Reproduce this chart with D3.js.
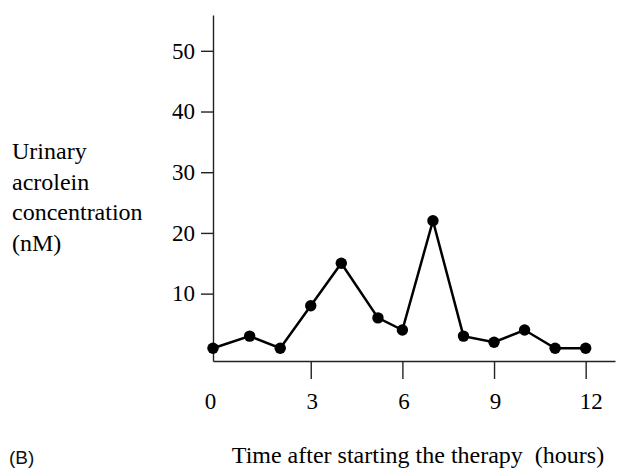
<!DOCTYPE html>
<html>
  <head>
    <meta charset="utf-8" />
    <style>
      body {
        margin: 0;
        background: white;
      }
      .serif {
        font-family: 'Liberation Serif', 'Times New Roman', serif;
        fill: black;
      }
      .axis path,
      .axis line {
        stroke: #222;
        stroke-width: 1.4;
      }
      .axis text {
        font-family: 'Liberation Serif', 'Times New Roman', serif;
        font-size: 23px;
        fill: black;
      }
    </style>
  </head>
  <body>
    <script src="https://d3js.org/d3.v7.min.js"></script>
    <script>
      // hours after start (first sample sits on the axis)
      const hours = [-0.2, 1, 2, 3, 4, 5.2, 6, 7, 8, 9, 10, 11, 12];
      // urinary acrolein, nM
      const acrolein = [1, 3, 1, 8, 15, 6, 4, 22, 3, 2, 4, 1, 1];
      const xTicks = [0, 3, 6, 9, 12];
      const yTicks = [10, 20, 30, 40, 50];
      const yTitle = ['Urinary', 'acrolein', 'concentration', '(nM)'];

      const width = 617;
      const height = 469;

      const svg = d3
        .select('body')
        .append('svg')
        .attr('width', width)
        .attr('height', height);

      const x = d3.scaleLinear().domain([-0.2, 12.96]).range([213, 615]);
      const y = d3.scaleLinear().domain([-1.1, 55.9]).range([361, 15]);

      // x axis
      const gx = svg
        .append('g')
        .attr('class', 'axis')
        .attr('transform', `translate(0,${y(-1.1)})`)
        .call(
          d3.axisBottom(x).tickValues(xTicks).tickSize(18).tickSizeOuter(0).tickPadding(14)
        );
      gx.selectAll('.tick')
        .filter((d) => d === 0)
        .select('line')
        .remove();
      gx.selectAll('.tick text')
        .attr('dx', (d) => (d === 0 ? -9 : d === 12 ? 5 : 1));

      // y axis
      svg
        .append('g')
        .attr('class', 'axis')
        .attr('transform', `translate(${x(-0.2)},0)`)
        .call(d3.axisLeft(y).tickValues(yTicks).tickSize(12).tickSizeOuter(0).tickPadding(6));

      svg.selectAll('.axis .domain').attr('stroke-width', 1.6);

      // series
      const pts = hours.map((h, i) => ({ h, v: acrolein[i] }));
      const line = d3
        .line()
        .x((d) => x(d.h))
        .y((d) => y(d.v));

      svg
        .append('path')
        .datum(pts)
        .attr('d', line)
        .attr('fill', 'none')
        .attr('stroke', 'black')
        .attr('stroke-width', 2.5);

      svg
        .append('g')
        .selectAll('circle')
        .data(pts)
        .join('circle')
        .attr('cx', (d) => x(d.h))
        .attr('cy', (d) => y(d.v))
        .attr('r', 5.7)
        .attr('fill', 'black');

      // y title, stacked lines on the left
      svg
        .append('text')
        .attr('class', 'serif')
        .attr('font-size', 24)
        .selectAll('tspan')
        .data(yTitle)
        .join('tspan')
        .attr('x', 12)
        .attr('y', (d, i) => 159 + i * 30.7)
        .text((d) => d);

      // x title
      svg
        .append('text')
        .attr('class', 'serif')
        .attr('font-size', 24)
        .attr('x', 418)
        .attr('y', 463)
        .attr('text-anchor', 'middle')
        .style('white-space', 'pre')
        .text('Time after starting the therapy  (hours)');

      // panel letter
      svg
        .append('text')
        .attr('x', 9)
        .attr('y', 464)
        .attr('font-family', "'Liberation Sans', Arial, sans-serif")
        .attr('font-size', 19)
        .attr('fill', '#111')
        .text('(B)');
    </script>
  </body>
</html>
